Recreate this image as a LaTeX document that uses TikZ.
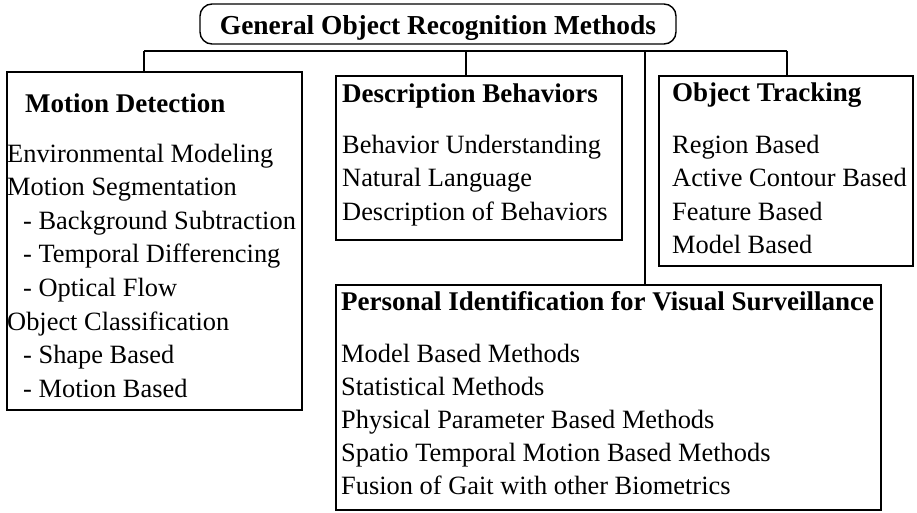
\documentclass[tikz,border=0pt]{standalone}
\usepackage{fontspec}
\setmainfont{Liberation Serif}
\usetikzlibrary{positioning}

\tikzset{
  box/.style = {draw, line width=1.4pt, inner sep=0pt},
  head/.style = {anchor=base west, inner sep=0pt, font=\fontsize{27}{32}\bfseries\selectfont},
  item/.style = {anchor=base west, inner sep=0pt, font=\fontsize{26.4}{32}\selectfont},
  link/.style = {line width=1.3pt}
}

\begin{document}
\begin{tikzpicture}[x=1pt, y=-1pt]
    \useasboundingbox (0,0) rectangle (917,512);

    % root
    \node [box, rounded corners=12pt, minimum width=476pt, minimum height=40pt,
           text height=26pt, text depth=6pt, font=\fontsize{27.4}{32}\bfseries\selectfont]
          (root) at (438,24) {General Object Recognition Methods\hspace{8pt}};

    % boxes
    \node [box, minimum width=295pt, minimum height=338pt] (motion) at (154.5,241) {};
    \node [box, minimum width=286pt, minimum height=164pt] (desc) at (479,158) {};
    \node [box, minimum width=254pt, minimum height=190pt] (track) at (786,171) {};
    \node [box, minimum width=545pt, minimum height=225pt] (ident) at (608.5,397.5) {};

    % bus
    \coordinate (bMot) at (144,51);
    \coordinate (bDes) at (466,51);
    \coordinate (bIde) at (645,51);
    \coordinate (bTrk) at (787,51);
    \draw [link] (bMot) -- (bTrk);
    \draw [link] (bMot) -- (bMot |- motion.north);
    \draw [link] (bDes) -- (bDes |- desc.north);
    \draw [link] (bIde) -- (bIde |- ident.north);
    \draw [link] (bTrk) -- (bTrk |- track.north);

    % Motion Detection
    \node [head] (motHead) at (25,112) {Motion Detection};
    \foreach \dx/\txt [count=\i] in {0/Environmental Modeling, 0/Motion Segmentation,
        16/- Background Subtraction, 16/- Temporal Differencing, 16/- Optical Flow,
        0/Object Classification, 16/- Shape Based, 16/- Motion Based}
        \node [item] (mot-\i) at ({7+\dx}, {162+33.6*(\i-1)}) {\txt};

    % Description Behaviors
    \node [head] (desHead) at (342,102) {Description Behaviors};
    \foreach \txt [count=\i] in {Behavior Understanding, Natural Language, Description of Behaviors}
        \node [item] (des-\i) at (342, {153+33.5*(\i-1)}) {\txt};

    % Object Tracking
    \node [head] (trkHead) at (672,101) {Object Tracking};
    \foreach \txt [count=\i] in {Region Based, Active Contour Based, Feature Based, Model Based}
        \node [item] (trk-\i) at (672, {153+33.5*(\i-1)}) {\txt};

    % Personal Identification
    \node [head] (ideHead) at (341,310) {Personal Identification for Visual Surveillance};
    \foreach \txt [count=\i] in {Model Based Methods, Statistical Methods, Physical Parameter Based Methods,
        Spatio Temporal Motion Based Methods, Fusion of Gait with other Biometrics}
        \node [item] (ide-\i) at (341, {362+33*(\i-1)}) {\txt};
\end{tikzpicture}
\end{document}
